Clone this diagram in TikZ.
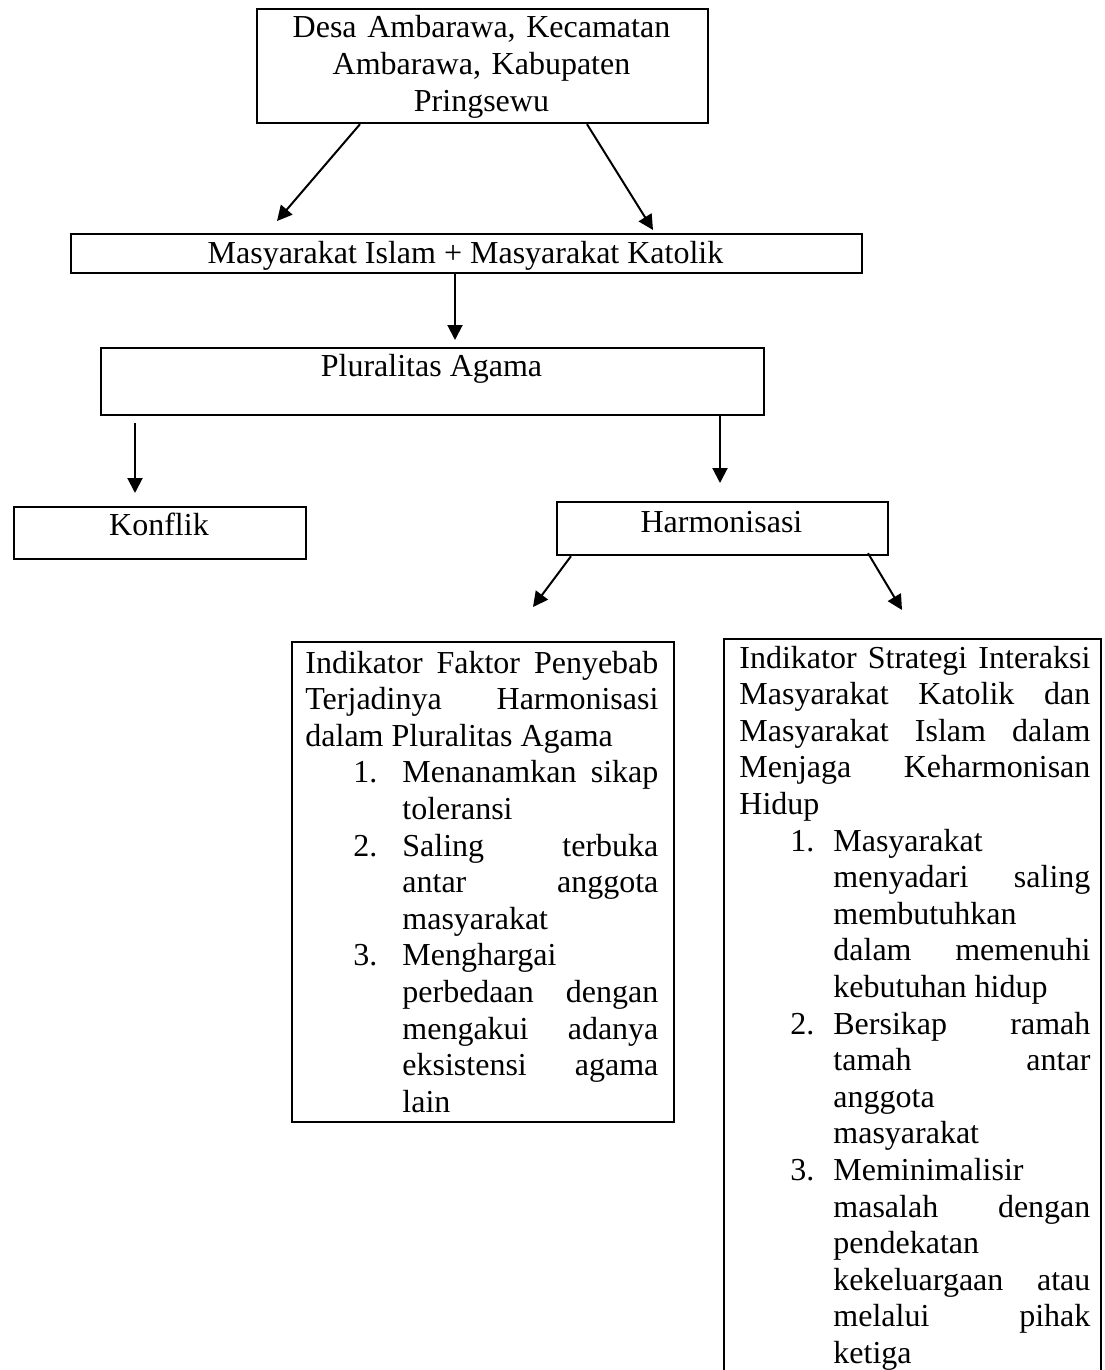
\documentclass[tikz,border=0pt]{standalone}
\usepackage{fontspec}
\setmainfont{Liberation Serif}
\usetikzlibrary{calc,arrows.meta}
\tolerance=10000
\pretolerance=-1
\hbadness=10000
\hfuzz=5pt
\hyphenpenalty=10000
\newcommand\listitem[3]{\par\leftskip=#1\relax\noindent\llap{\makebox[#2][l]{#3}}\ignorespaces}
\newcommand\justifyset{\leftskip=0pt\relax\rightskip=0pt\relax\parfillskip=0pt plus 1fil\relax\parindent=0pt\relax
  \spaceskip=4pt plus 40pt minus 0.5pt\relax\xspaceskip=4pt plus 40pt minus 0.5pt\relax}
\begin{document}
\begin{tikzpicture}[x=0.5pt,y=-0.5pt,
  box/.style={draw,line width=1.1pt,inner sep=0pt,anchor=north west},
  lbl/.style={font=\fontsize{16}{18.4}\selectfont,inner sep=0pt,anchor=base},
  para/.style={font=\fontsize{16}{18.3}\selectfont,inner sep=0pt,anchor=base west},
  arr/.style={line width=1pt,-{Triangle[length=7.5pt,width=7.5pt]}},
]
\clip (0,0) rectangle (1104,1370);
% boxes
\node[box,minimum width=225.5pt,minimum height=57pt] (top) at (256,8) {};
\node[box,minimum width=395.5pt,minimum height=19.5pt] (soc) at (70,233) {};
\node[box,minimum width=331.5pt,minimum height=33.5pt] (pl) at (100,347) {};
\node[box,minimum width=146pt,minimum height=26pt] (kon) at (13,506) {};
\node[box,minimum width=165.5pt,minimum height=26.5pt] (harm) at (556,501) {};
\node[box,minimum width=191pt,minimum height=240pt] (lbox) at (291,641) {};
\node[box,minimum width=188.5pt,minimum height=373.5pt] (rbox) at (723,638) {};
% texts
\node[lbl,text width=225pt,align=center] (toptext) at (481.5,38) {Desa Ambarawa, Kecamatan\\Ambarawa, Kabupaten\\Pringsewu};
\node[lbl] (soctext) at (465.5,263) {Masyarakat Islam + Masyarakat Katolik};
\node[lbl] (pltext) at (431.5,376) {Pluralitas Agama};
\node[lbl] (kontext) at (159,535) {Konflik};
\node[lbl] (harmtext) at (721.5,532) {Harmonisasi};
\node[para,text width=176.5pt] (ltext) at (305,673) {\justifyset
Indikator Faktor Penyebab\linebreak Terjadinya Harmonisasi\linebreak dalam Pluralitas Agama\par
\listitem{48.5pt}{24.5pt}{1.}Menanamkan sikap\linebreak toleransi\par
\listitem{48.5pt}{24.5pt}{2.}Saling terbuka\linebreak antar anggota\linebreak masyarakat\par
\listitem{48.5pt}{24.5pt}{3.}Menghargai\hfil\break perbedaan dengan\linebreak mengakui adanya\linebreak eksistensi agama\linebreak lain\par};
\node[para,text width=175.5pt] (rtext) at (739,668) {\justifyset
Indikator Strategi Interaksi\linebreak Masyarakat Katolik dan\linebreak Masyarakat Islam dalam\linebreak Menjaga Keharmonisan\linebreak Hidup\par
\listitem{47pt}{21.5pt}{1.}Masyarakat\hfil\break menyadari saling\linebreak membutuhkan\hfil\break dalam memenuhi\linebreak kebutuhan hidup\par
\listitem{47pt}{21.5pt}{2.}Bersikap ramah\linebreak tamah antar\linebreak anggota\hfil\break masyarakat\par
\listitem{47pt}{21.5pt}{3.}Meminimalisir\hfil\break masalah dengan\linebreak pendekatan\hfil\break kekeluargaan atau\linebreak melalui pihak\linebreak ketiga\par};
% connectors
\draw[arr] ($(top.south west)+(104,0)$) -- ($(soc.north west)+(207,-12)$);
\draw[arr] ($(top.south west)+(331,0)$) -- ($(soc.north west)+(583,-3)$);
\draw[arr] ($(soc.south west)+(385,0)$) -- ($(pl.north west)+(355,-7)$);
\draw[arr] ($(pl.south west)+(35,7)$) -- ($(kon.north west)+(122,-13)$);
\draw[arr] ($(pl.south west)+(620,0)$) -- ($(harm.north west)+(164,-18)$);
\draw[arr] ($(harm.south west)+(15,0)$) -- ($(lbox.north west)+(242,-34)$);
\draw[arr] ($(harm.south west)+(312,-3)$) -- ($(rbox.north west)+(179,-28)$);
\end{tikzpicture}
\end{document}
